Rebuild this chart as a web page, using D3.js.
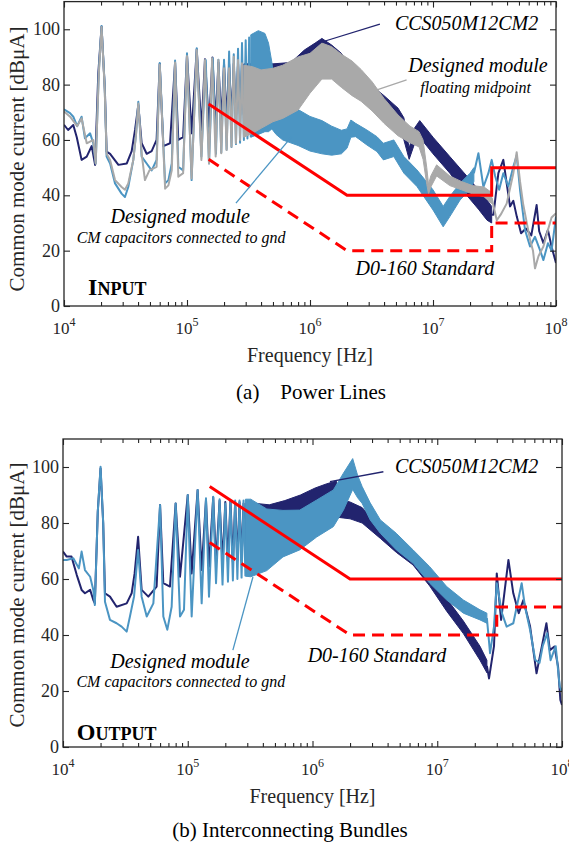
<!DOCTYPE html>
<html>
<head>
<meta charset="utf-8">
<script src="https://cdn.jsdelivr.net/npm/d3@7/dist/d3.min.js"></script>
<style>
	body { margin: 0; background: #fff; }
	svg text { font-family: "Liberation Serif", "Times New Roman", serif; }
</style>
</head>
<body>
<script>
// axis ticks
const freqTicks = [1e4, 1e5, 1e6, 1e7, 1e8];
const dbTicks = [0, 20, 40, 60, 80, 100];

// (a) power lines -- [Hz, dBuA] for lines, [Hz, low, high] for the dense bands
const inCcsLine = [[10000,65.5],[10800,63.6],[11900,65.4],[12700,61],[13900,52.8],[15300,54],[16800,57.8],[17900,51],[19000,84],[20200,101],[21500,78],[22200,55.8],[23700,55],[27700,51],[32400,51.5],[35500,56],[37800,63.6],[40200,72.6],[42800,58.8],[47000,55],[51600,56],[56600,60],[60000,87.5],[64200,57.8],[72800,58.8],[80000,88],[85000,60],[93000,61],[100000,90.7],[109000,62.4],[120000,92.8],[131000,63.6],[140000,89.2],[151000,64.8],[161000,89.8],[171000,66],[180000,88],[190000,66.5],[200000,87.5],[210000,67],[220000,87.5],[230000,67.5],[240000,87.5],[250000,68],[260000,87.5],[270000,68.5],[280000,87.5],[290000,69]];
const inCcsBand = [[290000,69,87.5],[350000,69,87.5],[500000,71,87.5],[700000,74,88],[900000,80,92.5],[1100000,84,95],[1250000,86,96.7],[1500000,86,94.3],[1800000,84,91.3],[2200000,80,86],[2600000,77,83],[3200000,73,79.5],[4000000,69,76],[5200000,65,71.5],[5800000,60,68],[6400000,53,57],[7000000,58,64],[7800000,61,67],[10000000,55,61],[13700000,48,54],[18800000,40,47],[23400000,35,42],[27500000,31,38.3],[30000000,30,36]];
const inCcsTail = [[30000000,33],[31000000,33],[34000000,48],[37300000,52.8],[39700000,44.4],[42300000,36],[45000000,38],[48000000,32.3],[52000000,26.3],[57000000,28],[63000000,25.5],[69600000,36.5],[73000000,27],[79000000,22.7],[86000000,27.5],[92000000,21.5],[100000000,15.5]];

const inCmLine = [[10000,71.1],[11200,69.7],[11900,68.4],[12800,65],[13900,68.4],[14800,60.6],[16300,62.4],[17300,58.8],[18100,51.5],[19200,85],[20200,101.2],[21400,80],[22200,54],[23700,51.5],[26000,44.3],[29400,40.6],[31300,39.4],[33300,43],[36600,52.8],[38500,62],[40200,73.8],[42800,54],[47000,51.5],[51600,49],[56600,52.8],[60000,87.8],[66400,44.3],[70600,45.5],[75200,51.5],[80000,88.7],[85000,50.3],[93000,49],[100000,91.3],[109000,45.5],[120000,93.1],[131000,54],[142000,88.9],[151000,51.5],[162000,89.5],[172000,55],[180000,89],[190000,55.5],[200000,89],[210000,56.5],[220000,92],[230000,57.5],[240000,91],[250000,58.5],[260000,93],[270000,59],[280000,95],[290000,60],[300000,96],[310000,60.5],[320000,97],[330000,61]];
const inCmBand = [[330000,61,98],[380000,62,99.5],[430000,63,98.5],[460000,63,95],[490000,64,88],[530000,62,76],[600000,60,73.5],[800000,58,71],[1000000,56,68.5],[1250000,55,67],[1500000,54.5,65],[1800000,55,63.5],[2000000,57,64],[2150000,61,67.2],[2350000,61.2,66],[2900000,58.2,63.6],[3500000,55.8,61.2],[3950000,52.8,58.8],[4800000,54,60],[5800000,48,54],[7400000,43.2,49.2],[10000000,34.7,42],[12100000,28.6,36],[13700000,32.3,39.6],[16600000,38.3,44.4],[20000000,42,48],[21500000,45,50]];
const inCmTail = [[21500000,48],[23400000,55.2],[25700000,43],[28200000,48],[30000000,52.8],[32000000,47],[34500000,42],[37300000,48],[41000000,43.2],[45000000,50.4],[47900000,54.3],[51000000,42],[56000000,27.5],[61500000,21.5],[67500000,25],[74000000,20.3],[79000000,16.6],[86000000,22.7],[92000000,20],[100000000,32.3]];

const inFloatLine = [[10000,70.3],[11200,68.4],[12800,65],[13900,67.8],[15300,58.8],[17300,60],[18100,51.5],[19200,84],[20200,100.8],[21400,79],[22200,55],[23700,52.8],[26000,45.5],[29400,43],[31300,42],[33300,44.3],[36600,52.8],[38500,62],[40200,73.2],[42800,55],[45500,45.5],[49500,49],[56600,50.3],[60000,87.2],[66400,42.4],[70600,43.6],[75200,49],[80000,88],[85000,46.7],[93000,48],[100000,90.3],[109000,46.1],[120000,92.5],[131000,52.8],[140000,88.9],[151000,51.5],[160000,89.5],[171000,54],[180000,88.9],[190000,55.2],[200000,85.9],[210000,56.4],[220000,85.9],[230000,57.6],[240000,90.1],[250000,58.8],[260000,88.9],[270000,60],[280000,87.7],[290000,61]];
const inFloatBand = [[290000,61,87],[340000,62.4,86.5],[400000,64.2,85.3],[500000,66.6,85.9],[600000,67.8,87],[800000,70.8,90],[1000000,76.9,91.3],[1250000,82,95],[1500000,82,93.7],[1800000,79,91],[2200000,76,88.5],[2600000,74,85.5],[3200000,70.5,81],[4000000,66,75],[5200000,61.5,69],[6500000,59,65],[7700000,57.5,63],[8300000,53,60],[8900000,44,50],[9200000,40.5,44],[9600000,43,47],[10700000,47,51],[13700000,43.5,47],[17000000,42,45],[21000000,40.5,43.5],[26000000,39.5,43],[30000000,37,41]];
const inFloatTail = [[30000000,39],[33000000,31],[35500000,33],[39700000,37],[45000000,48],[47900000,55.6],[51000000,45],[54000000,37],[61500000,24],[65000000,20],[67500000,13.6],[72000000,18],[79000000,21.5],[86000000,27.5],[92000000,32],[100000000,33.5]];

const inLimitSolid = [[150000,73],[2000000,40],[30000000,40],[30000000,50],[100000000,50]];
const inLimitDashed = [[150000,53],[2000000,20],[30000000,20],[30000000,30],[100000000,30]];

// (b) interconnecting bundles
const outCcsLine = [[10000,69.8],[10700,68],[11700,68],[12900,61.4],[14100,56.1],[15000,54.9],[16500,56.1],[17500,52.5],[18000,51.3],[19000,84],[20000,99.5],[21000,80],[21700,54.9],[23800,53.7],[26900,50.1],[32400,51.3],[35500,54.9],[37500,62],[40000,75.1],[42700,56.1],[48300,53.7],[56300,57.3],[60000,86.4],[63700,58.5],[72000,57.3],[80000,87],[86700,60.8],[100000,90],[107500,62],[120000,91.8],[129300,63.2],[140000,88.2],[148000,64.4],[160000,89.2],[168500,65.6],[180000,88],[190000,65.5],[200000,87.5],[210000,66],[220000,88],[230000,66],[240000,87.5],[250000,66.5],[260000,87.5],[270000,66.5],[280000,87],[290000,67]];
const outCcsBand = [[290000,67,87],[350000,67,87],[450000,68,86.5],[600000,71,88],[800000,74,90],[1050000,78,92.5],[1300000,81,94],[1550000,83,95],[1620000,82,88.5],[2000000,81.5,87.5],[2500000,80,85.5],[3500000,74.5,78.5],[4700000,69.5,74],[6400000,65,70],[8700000,57.5,61.5],[11900000,48.5,53],[16200000,40.5,45],[22000000,31,36],[25000000,26.5,31]];
const outCcsTail = [[25000000,29],[26000000,24.5],[28500000,36],[30000000,62],[32500000,45.4],[37200000,66.8],[40700000,54.9],[45000000,47.8],[49000000,52.5],[55500000,43],[62500000,26.3],[68000000,34.6],[75000000,44.2],[80000000,34.6],[87000000,35.9],[93000000,28.7],[97000000,16.8],[100000000,15]];

const outCmLine = [[10000,66.8],[10700,66.8],[12100,67.4],[13400,63.8],[14100,69.8],[15000,63.2],[16500,60.8],[17500,56.1],[18000,50.7],[19000,84],[20000,100.1],[21000,80],[21700,51.9],[23800,45.4],[26900,44.2],[29500,43],[32400,41.2],[34400,46.6],[37100,53.7],[40000,70.4],[42700,53.7],[46900,46.6],[53000,51.3],[60000,86.4],[63700,46.6],[68600,41.9],[74300,50.1],[80000,87],[86700,46.6],[93300,49],[100000,90],[107500,46.6],[120000,91.8],[129300,51.3],[140000,88.8],[148000,53.7],[160000,89.4],[168500,58.5],[180000,88.5],[190000,58],[200000,87],[210000,59],[220000,88],[230000,59.5],[240000,88],[250000,60],[260000,88],[270000,60.5],[280000,88],[290000,61]];
const outCmBand = [[290000,61,88.5],[320000,60.8,88.5],[430000,63,85],[580000,67.9,84.5],[790000,70.4,84.6],[1080000,75,88.2],[1470000,78.7,91.8],[1770000,84.6,97.8],[2100000,92,103],[2300000,89,97],[2500000,87,93],[2900000,81.1,87.2],[3500000,76.3,81.1],[4700000,70.4,76.3],[6400000,65.6,70.4],[8700000,58.5,64.4],[11900000,52.5,57.3],[16200000,47.8,52.5],[22000000,45.4,49],[25000000,44.2,47.8]];
const outCmTail = [[25000000,46],[26500000,33.5],[28500000,43],[30000000,58.5],[33000000,47.8],[36000000,43],[40700000,44.2],[47500000,58.5],[50500000,50.1],[55500000,41.8],[61000000,31.1],[66000000,30],[70000000,36],[76000000,40.6],[81000000,31],[89000000,36],[96000000,21.5],[100000000,20]];

const outLimitSolid = [[150000,93],[2000000,60],[100000000,60]];
const outLimitDashed = [[150000,73],[2000000,40],[30000000,40],[30000000,50],[100000000,50]];


const navy = "#22246e",
	blue = "#4b95c3",
	grey = "#a9a9a9",
	red = "#ff0000",
	axisCol = "#262626";

const width = 569,
	height = 843;

const svg = d3.select("body")
	.append("svg")
	.attr("width", width)
	.attr("height", height);

svg.append("rect").attr("width", width).attr("height", height).attr("fill", "#fff");

function drawPanel(p) {
	const x = d3.scaleLog().domain([1e4, 1e8]).range([p.left, p.right]);
	const y = d3.scaleLinear().domain([0, 110]).range([p.bottom, p.top]);

	const line = d3.line()
		.x(d => x(d[0]))
		.y(d => y(d[1]));
	const band = d3.area()
		.x(d => x(d[0]))
		.y0(d => y(d[1]))
		.y1(d => y(d[2]));

	svg.append("clipPath")
		.attr("id", "clip-" + p.name)
		.append("rect")
		.attr("x", p.left)
		.attr("y", p.top)
		.attr("width", p.right - p.left)
		.attr("height", p.bottom - p.top);

	const plot = svg.append("g").attr("clip-path", "url(#clip-" + p.name + ")");

	for (let s of p.series) {
		plot.append("path")
			.attr("d", band(s.band))
			.attr("fill", s.color)
			.attr("stroke", s.color)
			.attr("stroke-width", 1);
		for (let part of [s.line, s.tail]) {
			plot.append("path")
				.attr("d", line(part))
				.attr("fill", "none")
				.attr("stroke", s.color)
				.attr("stroke-width", 2)
				.attr("stroke-linejoin", "round");
		}
	}

	plot.append("path")
		.attr("d", line(p.solid))
		.attr("fill", "none")
		.attr("stroke", red)
		.attr("stroke-width", 3);
	plot.append("path")
		.attr("d", line(p.dashed))
		.attr("fill", "none")
		.attr("stroke", red)
		.attr("stroke-width", 3)
		.attr("stroke-dasharray", "12,7");

	// leaders + labels
	for (let l of p.leaders) {
		svg.append("line")
			.attr("x1", x(l.from[0])).attr("y1", y(l.from[1]))
			.attr("x2", x(l.to[0])).attr("y2", y(l.to[1]))
			.attr("stroke", l.color)
			.attr("stroke-width", 1.3);
	}
	for (let n of p.notes) {
		svg.append("text")
			.attr("x", x(n.f))
			.attr("y", y(n.v))
			.attr("text-anchor", n.anchor || "middle")
			.attr("font-style", "italic")
			.attr("font-size", n.size)
			.attr("fill", "#000")
			.text(n.t);
	}
	const tag = svg.append("text")
		.attr("x", x(p.tag.f))
		.attr("y", y(p.tag.v))
		.attr("font-weight", "bold")
		.attr("fill", "#000");
	tag.append("tspan").attr("font-size", 24).text(p.tag.t[0]);
	tag.append("tspan").attr("font-size", 18).text(p.tag.t.slice(1));

	// axes, ticks inward on all four sides
	const minor = [];
	for (let e = 4; e < 8; e++) {
		for (let k = 2; k < 10; k++) minor.push(k * Math.pow(10, e));
	}

	const axes = [
		[d3.axisBottom(x).tickValues(freqTicks).tickSizeInner(-6), p.bottom, "x"],
		[d3.axisBottom(x).tickValues(minor).tickSizeInner(-4), p.bottom, "x"],
		[d3.axisTop(x).tickValues(freqTicks).tickSizeInner(-6), p.top, "x"],
		[d3.axisTop(x).tickValues(minor).tickSizeInner(-4), p.top, "x"],
		[d3.axisLeft(y).tickValues(dbTicks).tickSizeInner(-6), p.left, "y"],
		[d3.axisRight(y).tickValues(dbTicks).tickSizeInner(-6), p.right, "y"]
	];
	for (let a of axes) {
		const g = svg.append("g")
			.attr("transform", a[2] === "x" ? "translate(0," + a[1] + ")" : "translate(" + a[1] + ",0)")
			.call(a[0].tickSizeOuter(0).tickFormat(""));
		g.select(".domain").remove();
		g.selectAll("line").attr("stroke", axisCol).attr("stroke-width", 1.1);
	}

	svg.append("rect")
		.attr("x", p.left)
		.attr("y", p.top)
		.attr("width", p.right - p.left)
		.attr("height", p.bottom - p.top)
		.attr("fill", "none")
		.attr("stroke", axisCol)
		.attr("stroke-width", 1.3);

	svg.append("g")
		.selectAll("text")
		.data(dbTicks)
		.join("text")
		.attr("x", p.left - 4)
		.attr("y", d => y(d) + 6)
		.attr("text-anchor", "end")
		.attr("font-size", 18)
		.attr("fill", axisCol)
		.text(d => d);

	const xl = svg.append("g")
		.selectAll("text")
		.data(freqTicks)
		.join("text")
		.attr("x", d => x(d))
		.attr("y", p.bottom + 28)
		.attr("text-anchor", "middle")
		.attr("font-size", 17)
		.attr("fill", axisCol);
	xl.append("tspan").text("10");
	xl.append("tspan")
		.attr("font-size", 12)
		.attr("dy", -8)
		.text(d => Math.round(Math.log10(d)));

	svg.append("text")
		.attr("x", (p.left + p.right) / 2)
		.attr("y", p.bottom + 56)
		.attr("text-anchor", "middle")
		.attr("font-size", 20)
		.attr("fill", axisCol)
		.text("Frequency [Hz]");

	svg.append("text")
		.attr("transform", "translate(24," + p.yLabelMid + ") rotate(-90)")
		.attr("text-anchor", "middle")
		.attr("font-size", 21)
		.attr("fill", axisCol)
		.text("Common mode current [dB\u03bcA]");

	svg.append("text")
		.attr("x", p.captionX)
		.attr("y", p.bottom + p.captionDy)
		.attr("text-anchor", "middle")
		.attr("font-size", 21)
		.attr("fill", "#000")
		.style("white-space", "pre")
		.text(p.caption);
}

drawPanel({
	name: "in",
	left: 64, right: 556, top: 1.6, bottom: 306,
	series: [
		{ color: navy, line: inCcsLine, band: inCcsBand, tail: inCcsTail },
		{ color: blue, line: inCmLine, band: inCmBand, tail: inCmTail },
		{ color: grey, line: inFloatLine, band: inFloatBand, tail: inFloatTail }
	],
	solid: inLimitSolid,
	dashed: inLimitDashed,
	leaders: [
		{ from: [1.25e6, 95.4], to: [3.7e6, 101.9], color: navy },
		{ from: [3.5e6, 78.1], to: [6.1e6, 81.7], color: grey },
		{ from: [2.5e5, 37.2], to: [7.1e5, 61.2], color: blue }
	],
	notes: [
		{ t: "CCS050M12CM2", f: 4.9e6, v: 99.7, size: 20, anchor: "start" },
		{ t: "Designed module", f: 2.32e7, v: 84.6, size: 20 },
		{ t: "floating midpoint", f: 2.22e7, v: 77, size: 16 },
		{ t: "Designed module", f: 8.8e4, v: 30, size: 20 },
		{ t: "CM capacitors connected to gnd", f: 8.95e4, v: 22.8, size: 16 },
		{ t: "D0-160 Standard", f: 8.6e6, v: 11.2, size: 20 }
	],
	tag: { t: "INPUT", f: 1.57e4, v: 4 },
	yLabelMid: 159,
	caption: "(a)    Power Lines",
	captionX: 311,
	captionDy: 93
});

drawPanel({
	name: "out",
	left: 63, right: 562, top: 439, bottom: 747,
	series: [
		{ color: navy, line: outCcsLine, band: outCcsBand, tail: outCcsTail },
		{ color: blue, line: outCmLine, band: outCmBand, tail: outCmTail }
	],
	solid: outLimitSolid,
	dashed: outLimitDashed,
	leaders: [
		{ from: [1.38e6, 94.75], to: [3.7e6, 98.3], color: navy },
		{ from: [2.3e5, 34.6], to: [3.33e5, 60.7], color: blue }
	],
	notes: [
		{ t: "CCS050M12CM2", f: 4.58e6, v: 97.9, size: 20, anchor: "start" },
		{ t: "Designed module", f: 8.67e4, v: 28.2, size: 20 },
		{ t: "CM capacitors connected to gnd", f: 8.8e4, v: 21.4, size: 16 },
		{ t: "D0-160 Standard", f: 3.29e6, v: 30.4, size: 20 }
	],
	tag: { t: "OUTPUT", f: 1.29e4, v: 2.5 },
	yLabelMid: 595,
	caption: "(b) Interconnecting Bundles",
	captionX: 290,
	captionDy: 90
});
</script>
</body>
</html>
